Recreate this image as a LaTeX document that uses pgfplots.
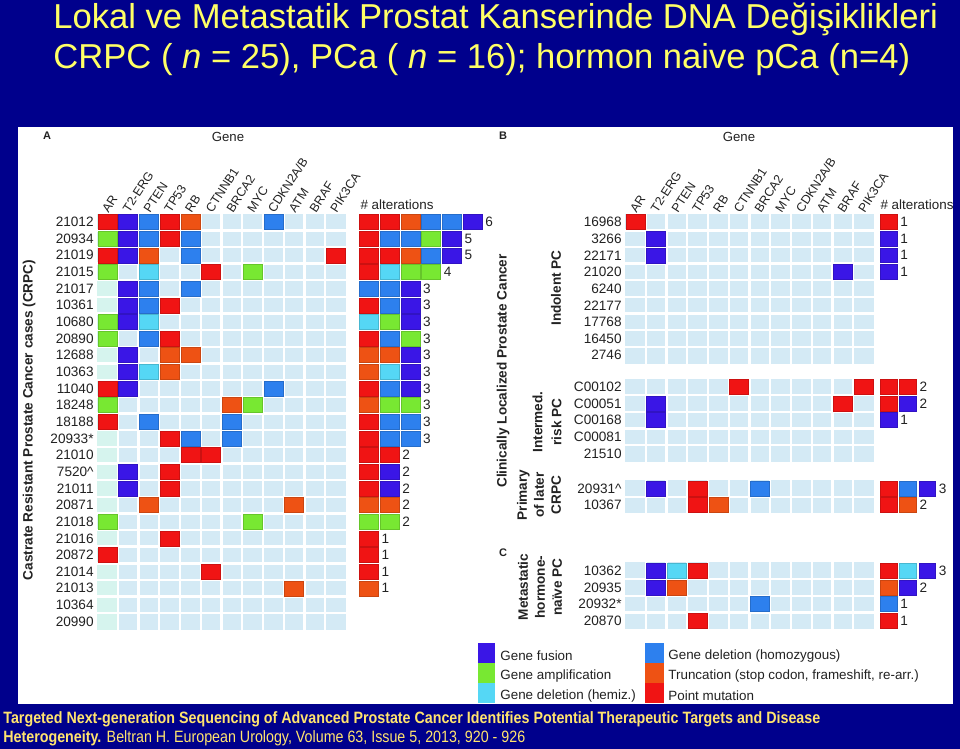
\documentclass[border=0pt]{standalone}
\usepackage{pgfplots}
\pgfplotsset{compat=1.18}
\usepackage{fontspec}
\setmainfont{Liberation Sans}
\newfontfamily\narrowfont[FakeStretch=0.87]{Liberation Sans}

\definecolor{navy}{RGB}{0,0,140}
\definecolor{titley}{RGB}{255,255,102}
\definecolor{foot}{RGB}{255,228,110}
\definecolor{cfus}{RGB}{58,22,230}
\definecolor{camp}{RGB}{120,232,50}
\definecolor{chem}{RGB}{85,215,245}
\definecolor{chom}{RGB}{45,128,238}
\definecolor{ctru}{RGB}{238,82,20}
\definecolor{cpnt}{RGB}{240,20,20}
\definecolor{cempty}{RGB}{212,234,245}
\definecolor{cmint}{RGB}{214,244,238}
\definecolor{txt}{RGB}{34,34,34}

\pgfdeclareplotmark{cell}{\pgfpathrectangle{\pgfqpoint{-4.75pt}{-3.75pt}}{\pgfqpoint{9.5pt}{7.5pt}}\pgfusepathqfillstroke}
\pgfdeclareplotmark{bcell}{\pgfpathrectangle{\pgfqpoint{-4.15pt}{-3.7pt}}{\pgfqpoint{8.3pt}{7.4pt}}\pgfusepathqfillstroke}

\pgfplotsset{
  P/.style={only marks, mark=cell, mark options={fill=cpnt, draw=cpnt!85!black, line width=0.25pt}},
  T/.style={only marks, mark=cell, mark options={fill=ctru, draw=ctru!85!black, line width=0.25pt}},
  D/.style={only marks, mark=cell, mark options={fill=chom, draw=chom!85!black, line width=0.25pt}},
  H/.style={only marks, mark=cell, mark options={fill=chem, draw=chem!85!black, line width=0.25pt}},
  A/.style={only marks, mark=cell, mark options={fill=camp, draw=camp!85!black, line width=0.25pt}},
  F/.style={only marks, mark=cell, mark options={fill=cfus, draw=cfus!85!black, line width=0.25pt}},
  cnt/.style={draw=none, mark=none, nodes near coords, point meta=explicit symbolic,
    nodes near coords style={anchor=west, inner sep=0.5pt, text=txt, font=\fontsize{6.8}{8}\selectfont}},
  hm/.style={
    scale only axis, width=124.5pt, height=208.125pt,
    xmin=0.5, xmax=12.5, ymin=-0.5, ymax=24.5, y dir=reverse,
    clip=false, axis line style={draw=none}, major tick length=0pt,
    xtick={1,2,3,4,5,6,7,8,9,10,11,12},
    xticklabels={AR,T2-ERG,PTEN,TP53,RB,CTNNB1,BRCA2,MYC,CDKN2A/B,ATM,BRAF,PIK3CA},
    xticklabel pos=upper,
    xticklabel style={font=\fontsize{6.2}{7}\selectfont, text=txt, xshift=1pt, yshift=-1.5pt, rotate=57, anchor=south west, inner sep=1pt},
    yticklabel style={font=\fontsize{6.8}{8}\selectfont, text=txt, anchor=east, inner sep=1.5pt},
    anchor=center,
  },
}

\begin{document}
\begin{tikzpicture}
\begin{scope}[x=0.5pt,y=-0.5pt]
\fill[navy] (0,0) rectangle (960,749);
\fill[white] (18,127) rectangle (953,704);
\node[anchor=base west, text=titley, font=\fontsize{17.3}{20}\selectfont, inner sep=0] at (53,29) {Lokal ve Metastatik Prostat Kanserinde DNA Değişiklikleri};
\node[anchor=base west, text=titley, font=\fontsize{17.3}{20}\selectfont, inner sep=0] at (53,69) {CRPC ( \textit{n} = 25), PCa ( \textit{n} = 16); hormon naive pCa (n=4)};
% panel letters and headers
\node[font=\bfseries\fontsize{5.5}{6}\selectfont, text=txt] at (47,136) {A};
\node[font=\bfseries\fontsize{5.5}{6}\selectfont, text=txt] at (503,136) {B};
\node[font=\bfseries\fontsize{5.5}{6}\selectfont, text=txt] at (503,553) {C};
\node[font=\fontsize{6.6}{8}\selectfont, text=txt] at (228,137) {Gene};
\node[font=\fontsize{6.6}{8}\selectfont, text=txt] at (739,137) {Gene};
\node[font=\fontsize{6.7}{8}\selectfont, text=txt] at (397,205) {\# alterations};
\node[font=\fontsize{6.7}{8}\selectfont, text=txt] at (917,205) {\# alterations};
% group labels
\node[rotate=90, font=\bfseries\fontsize{6.8}{8}\selectfont, text=txt] at (29,420) {Castrate Resistant Prostate Cancer cases (CRPC)};
\node[rotate=90, font=\bfseries\fontsize{6.8}{8}\selectfont, text=txt] at (503,371) {Clinically Localized Prostate Cancer};
\node[rotate=90, font=\bfseries\fontsize{6.8}{8}\selectfont, text=txt] at (556,288) {Indolent PC};
\node[rotate=90, align=center, font=\bfseries\fontsize{6.8}{9.5}\selectfont, text=txt] at (547,422) {Intermed.\\risk PC};
\node[rotate=90, align=center, font=\bfseries\fontsize{6.8}{8.5}\selectfont, text=txt] at (539,495) {Primary\\of later\\CRPC};
\node[rotate=90, align=center, font=\bfseries\fontsize{6.8}{8.5}\selectfont, text=txt] at (540,587) {Metastatic\\hormone-\\naïve PC};
% legend
\fill[cfus] (478,643) rectangle (495,663);
\fill[camp] (478,663) rectangle (495,683);
\fill[chem] (478,683) rectangle (495,703);
\fill[chom] (645,643) rectangle (664,663);
\fill[ctru] (645,663) rectangle (664,683);
\fill[cpnt] (645,683) rectangle (664,703);
\begin{scope}[every node/.style={anchor=west, inner sep=0, text=txt, font=\fontsize{6.7}{8}\selectfont}]
\node at (500,656) {Gene fusion};
\node at (500,676) {Gene amplification};
\node at (500,696) {Gene deletion (hemiz.)};
\node at (668,656) {Gene deletion (homozygous)};
\node at (668,676) {Truncation (stop codon, frameshift, re-arr.)};
\node at (668,696) {Point mutation};
\end{scope}
% footer
\node[anchor=base west, inner sep=0, text=foot, font=\narrowfont\bfseries\fontsize{8.2}{10}\selectfont] at (3,723) {Targeted Next-generation Sequencing of Advanced Prostate Cancer Identifies Potential Therapeutic Targets and Disease};
\node[anchor=base west, inner sep=0, text=foot, font=\narrowfont\fontsize{8.2}{10}\selectfont] at (3,742) {\textbf{Heterogeneity.} Beltran H. European Urology, Volume 63, Issue 5, 2013, 920 - 926};
\end{scope}

% ---------------- Panel A ----------------
\begin{axis}[hm, at={(110.75pt,-210.9pt)},
  ytick={0,1,2,3,4,5,6,7,8,9,10,11,12,13,14,15,16,17,18,19,20,21,22,23,24},
  yticklabels={21012,20934,21019,21015,21017,10361,10680,20890,12688,10363,11040,18248,18188,20933*,21010,7520\textasciicircum,21011,20871,21018,21016,20872,21014,21013,10364,20990}]
\fill[cempty] (axis cs:0.5,-0.5) rectangle (axis cs:12.5,24.5);
\fill[cmint] (axis cs:0.5,-0.5) rectangle (axis cs:1.5,24.5);
\pgfplotsinvokeforeach{1.5,2.5,3.5,4.5,5.5,6.5,7.5,8.5,9.5,10.5,11.5}{\draw[white,line width=1.2pt] (axis cs:#1,-0.5) -- (axis cs:#1,24.5);}
\pgfplotsinvokeforeach{0.5,1.5,2.5,3.5,4.5,5.5,6.5,7.5,8.5,9.5,10.5,11.5,12.5,13.5,14.5,15.5,16.5,17.5,18.5,19.5,20.5,21.5,22.5,23.5}{\draw[white,line width=1.2pt] (axis cs:0.5,#1) -- (axis cs:12.5,#1);}
% gene cells
\addplot[P] coordinates {(1,0) (4,0) (4,1) (1,2) (12,2) (6,3) (4,5) (4,7) (1,10) (1,12) (4,13) (5,14) (6,14) (4,15) (4,16) (4,19) (1,20) (6,21)};
\addplot[T] coordinates {(5,0) (3,2) (4,8) (5,8) (4,9) (7,11) (3,17) (10,17) (10,22)};
\addplot[D] coordinates {(3,0) (9,0) (3,1) (5,1) (5,2) (3,4) (5,4) (3,5) (3,7) (9,10) (3,12) (7,12) (5,13) (7,13)};
\addplot[H] coordinates {(3,3) (3,6) (3,9)};
\addplot[A] coordinates {(1,1) (1,3) (8,3) (1,6) (1,7) (1,11) (8,11) (1,18) (8,18)};
\addplot[F] coordinates {(2,0) (2,1) (2,2) (2,4) (2,5) (2,6) (2,8) (2,9) (2,10) (2,15) (2,16)};
% alteration stacks
\addplot[P] coordinates {(13.6,0) (14.6,0) (13.6,1) (13.6,2) (14.6,2) (13.6,3) (13.6,5) (13.6,7) (13.6,10) (13.6,12) (13.6,13) (13.6,14) (14.6,14) (13.6,15) (13.6,16) (13.6,19) (13.6,20) (13.6,21)};
\addplot[T] coordinates {(15.6,0) (15.6,2) (13.6,8) (14.6,8) (13.6,9) (13.6,11) (13.6,17) (14.6,17) (13.6,22)};
\addplot[D] coordinates {(16.6,0) (17.6,0) (14.6,1) (15.6,1) (16.6,2) (13.6,4) (14.6,4) (14.6,5) (14.6,7) (14.6,10) (14.6,12) (15.6,12) (14.6,13) (15.6,13)};
\addplot[H] coordinates {(14.6,3) (13.6,6) (14.6,9)};
\addplot[A] coordinates {(16.6,1) (15.6,3) (16.6,3) (14.6,6) (15.6,7) (14.6,11) (15.6,11) (13.6,18) (14.6,18)};
\addplot[F] coordinates {(18.6,0) (17.6,1) (17.6,2) (15.6,4) (15.6,5) (15.6,6) (15.6,8) (15.6,9) (15.6,10) (14.6,15) (14.6,16)};
\addplot[cnt] coordinates {(19.15,0) [6] (18.15,1) [5] (18.15,2) [5] (17.15,3) [4]
  (16.15,4) [3] (16.15,5) [3] (16.15,6) [3] (16.15,7) [3] (16.15,8) [3] (16.15,9) [3] (16.15,10) [3] (16.15,11) [3] (16.15,12) [3] (16.15,13) [3]
  (15.15,14) [2] (15.15,15) [2] (15.15,16) [2] (15.15,17) [2] (15.15,18) [2]
  (14.15,19) [1] (14.15,20) [1] (14.15,21) [1] (14.15,22) [1]};
\end{axis}

% ---------------- Panels B and C ----------------
\begin{axis}[hm, at={(374.75pt,-210.9pt)},
  ytick={0,1,2,3,4,5,6,7,8,9.9,10.9,11.9,12.9,13.9,16,17,20.95,21.95,22.95,23.95},
  yticklabels={16968,3266,22171,21020,6240,22177,17768,16450,2746,C00102,C00051,C00168,C00081,21510,20931\textasciicircum,10367,10362,20935,20932*,20870}]
\fill[cempty] (axis cs:0.5,-0.5) rectangle (axis cs:12.5,8.5);
\fill[cempty] (axis cs:0.5,9.4) rectangle (axis cs:12.5,14.4);
\fill[cempty] (axis cs:0.5,15.5) rectangle (axis cs:12.5,17.5);
\fill[cempty] (axis cs:0.5,20.45) rectangle (axis cs:12.5,24.45);
\pgfplotsinvokeforeach{1.5,2.5,3.5,4.5,5.5,6.5,7.5,8.5,9.5,10.5,11.5}{\draw[white,line width=1.2pt] (axis cs:#1,-0.5) -- (axis cs:#1,24.5);}
\pgfplotsinvokeforeach{0.5,1.5,2.5,3.5,4.5,5.5,6.5,7.5,10.4,11.4,12.4,13.4,16.5,21.45,22.45,23.45}{\draw[white,line width=1.2pt] (axis cs:0.5,#1) -- (axis cs:12.5,#1);}
% gene cells
\addplot[P] coordinates {(1,0) (6,9.9) (12,9.9) (11,10.9) (4,16) (4,17) (4,20.95) (4,23.95)};
\addplot[F] coordinates {(2,1) (2,2) (11,3) (2,10.9) (2,11.9) (2,16) (2,20.95) (2,21.95)};
\addplot[D] coordinates {(7,16) (7,22.95)};
\addplot[H] coordinates {(3,20.95)};
\addplot[T] coordinates {(5,17) (3,21.95)};
% alteration stacks
\addplot[P, mark=bcell] coordinates {(13.2,0) (13.2,9.9) (14.13,9.9) (13.2,10.9) (13.2,16) (13.2,17) (13.2,20.95) (13.2,23.95)};
\addplot[F, mark=bcell] coordinates {(13.2,1) (13.2,2) (13.2,3) (14.13,10.9) (13.2,11.9) (15.06,16) (15.06,20.95) (14.13,21.95)};
\addplot[D, mark=bcell] coordinates {(14.13,16) (13.2,22.95)};
\addplot[H, mark=bcell] coordinates {(14.13,20.95)};
\addplot[T, mark=bcell] coordinates {(14.13,17) (13.2,21.95)};
\addplot[cnt] coordinates {(13.7,0) [1] (13.7,1) [1] (13.7,2) [1] (13.7,3) [1] (14.63,9.9) [2] (14.63,10.9) [2] (13.7,11.9) [1]
  (15.56,16) [3] (14.63,17) [2] (15.56,20.95) [3] (14.63,21.95) [2] (13.7,22.95) [1] (13.7,23.95) [1]};
\end{axis}

\pgfresetboundingbox
\path[use as bounding box] (0pt,0pt) rectangle (480pt,-374.5pt);
\end{tikzpicture}
\end{document}
